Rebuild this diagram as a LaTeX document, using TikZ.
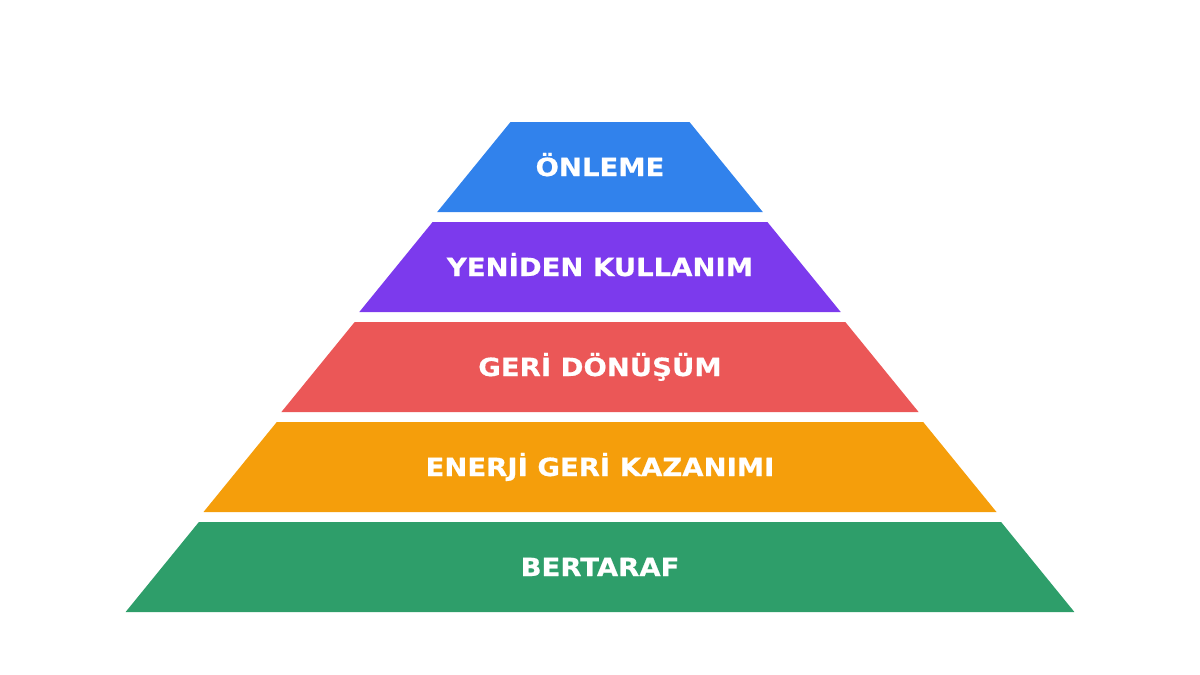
\documentclass[tikz,border=0pt]{standalone}
\usepackage{fontspec}
\setmainfont{DejaVu Sans}
\newfontfamily\layerfont[FakeStretch=1.10, FakeBold=0.6]{DejaVu Sans}
\usepackage{tikz}
\usetikzlibrary{positioning}
\definecolor{layerblue}{HTML}{3182EC}
\definecolor{layerpurple}{HTML}{7C3AED}
\definecolor{layerred}{HTML}{EB5757}
\definecolor{layerorange}{HTML}{F59E0B}
\definecolor{layergreen}{HTML}{2E9E6A}
\tikzset{
    layertext/.style={text=white, anchor=base, font=\layerfont\bfseries\fontsize{25}{30}\selectfont}
}

\begin{document}
\begin{tikzpicture}[x=1pt, y=-1pt]
\useasboundingbox (0,0) rectangle (1200,675);

% === Pyramid layers, top to bottom ===
\foreach \i/\col/\name/\txt in {
    0/layerblue/onleme/ÖNLEME,
    1/layerpurple/yeniden/YENİDEN KULLANIM,
    2/layerred/geri/GERİ DÖNÜŞÜM,
    3/layerorange/enerji/ENERJİ GERİ KAZANIMI,
    4/layergreen/bertaraf/BERTARAF} {
    \pgfmathsetmacro\yt{122+100*\i}
    \pgfmathsetmacro\yb{\yt+90}
    \pgfmathsetmacro\wt{89.5+77.9*\i}
    \pgfmathsetmacro\wb{\wt+73.3}
    \fill[\col] (600-\wt,\yt) -- (600+\wt,\yt) -- (600+\wb,\yb) -- (600-\wb,\yb) -- cycle;
    \node[layertext] (\name) at (600,\yt+54) {\txt};
}

\end{tikzpicture}
\end{document}
